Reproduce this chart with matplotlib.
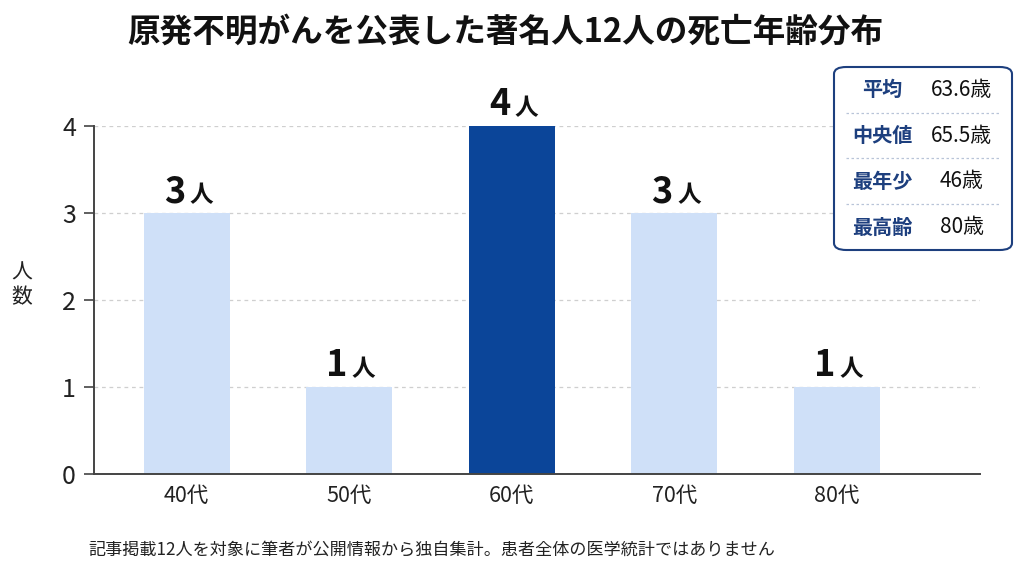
import matplotlib.pyplot as plt
from matplotlib.patches import FancyBboxPatch

plt.rcParams["font.family"] = ["Noto Sans CJK JP", "DejaVu Sans"]

# -----------------------------
# Data
# -----------------------------
age_groups = ["40代", "50代", "60代", "70代", "80代"]
counts = [3, 1, 4, 3, 1]
highlight = "60代"

stat_labels = ["平均", "中央値", "最年少", "最高齢"]
stat_values = ["63.6歳", "65.5歳", "46歳", "80歳"]

title = "原発不明がんを公表した著名人12人の死亡年齢分布"
note = "記事掲載12人を対象に筆者が公開情報から独自集計。患者全体の医学統計ではありません"

LIGHT = "#cfe0f8"
DARK = "#0b4599"
NAVY = "#1d3f7e"

# -----------------------------
# Figure
# -----------------------------
fig = plt.figure(figsize=(10.24, 5.76), dpi=100)
ax = fig.add_axes([0.0918, 0.177, 0.865, 0.604])

x = list(range(len(age_groups)))
colors = [DARK if g == highlight else LIGHT for g in age_groups]
ax.bar(x, counts, width=0.53, color=colors, zorder=2)

ax.set_xlim(-0.57, 4.88)
ax.set_ylim(0, 4)
ax.set_yticks([0, 1, 2, 3, 4])
ax.set_xticks(x)
ax.set_xticklabels(age_groups)
ax.tick_params(axis="x", length=0, labelsize=15.5, pad=8, colors="#222222")
ax.tick_params(axis="y", length=7, width=1.2, labelsize=18, pad=6,
               color="#444444", labelcolor="#222222")
ax.yaxis.grid(True, linestyle=(0, (3, 3)), color="#cfcfcf", linewidth=0.9, zorder=0)
for s in ["top", "right"]:
    ax.spines[s].set_visible(False)
for s in ["left", "bottom"]:
    ax.spines[s].set_color("#444444")
    ax.spines[s].set_linewidth(1.4)

fig.text(22 / 1024, 1 - 285 / 576, "人\n数", fontsize=15,
         ha="center", va="center", linespacing=1.15, color="#222222")

# value labels
for xi, c in zip(x, counts):
    ax.annotate(str(c), (xi, c), xytext=(-1, 2), textcoords="offset points",
                ha="right", va="bottom", fontsize=26, fontweight="bold",
                color="#111111", annotation_clip=False)
    ax.annotate("人", (xi, c), xytext=(2, 4), textcoords="offset points",
                ha="left", va="bottom", fontsize=17, fontweight="semibold",
                color="#111111", annotation_clip=False)

# title and note
fig.text(0.494, 0.945, title, ha="center", va="center", fontsize=23.5,
         fontweight="bold", color="#111111")
fig.text(0.086, 0.045, note, ha="left", va="center", fontsize=12.3, color="#222222")

# stats box
bx0, by0, bw, bh = 834 / 1024, 1 - 250 / 576, 178 / 1024, 183 / 576
box = FancyBboxPatch((bx0, by0), bw, bh, boxstyle="round,pad=0,rounding_size=0.012",
                     transform=fig.transFigure, facecolor="white", edgecolor=NAVY,
                     linewidth=1.5, zorder=5)
fig.patches.append(box)
row_h = bh / 4
for i, (lab, val) in enumerate(zip(stat_labels, stat_values)):
    yc = by0 + bh - row_h * (i + 0.5)
    fig.text(0.862, yc, lab, ha="center", va="center",
             fontsize=14.5, fontweight="bold", color=NAVY, zorder=6)
    fig.text(0.939, yc, val, ha="center", va="center", fontsize=15,
             color="#111111", zorder=6)
    if i < 3:
        ysep = by0 + bh - row_h * (i + 1)
        fig.add_artist(plt.Line2D([bx0 + 0.012, bx0 + bw - 0.012], [ysep, ysep],
                                  transform=fig.transFigure, color="#b8c4d8",
                                  linestyle=(0, (2, 2)), linewidth=0.9, zorder=6))

fig.savefig("out.png", dpi=100)
